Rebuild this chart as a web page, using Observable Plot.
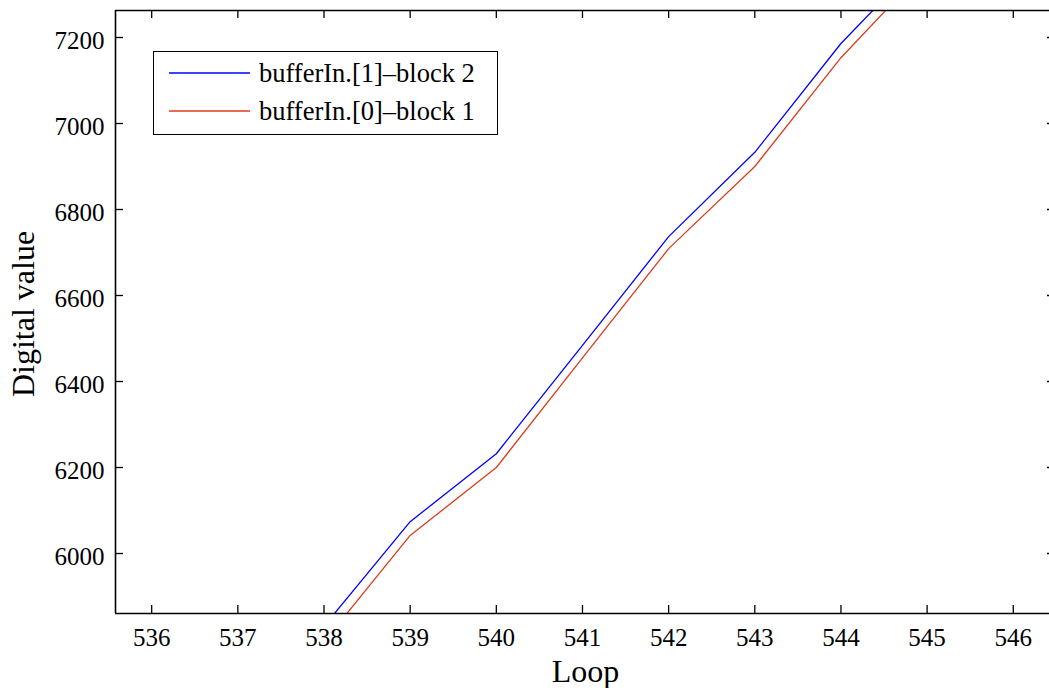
<!DOCTYPE html>
<html>
<head>
<meta charset="utf-8">
<script src="https://cdn.jsdelivr.net/npm/d3@7"></script>
<script src="https://cdn.jsdelivr.net/npm/@observablehq/plot@0.6"></script>
<style>
  html, body { margin: 0; padding: 0; background: #fff; overflow: hidden; }
  #wrap { position: relative; width: 1049px; height: 688px; overflow: hidden; }
  #wrap svg text, #wrap svg g[aria-label] { font-family: "Liberation Serif", "Times New Roman", serif !important; }
  .legend { position: absolute; left: 153px; top: 51px; width: 343px; height: 82px;
            border: 1.5px solid #000; background: #fff;
            font-family: "Liberation Serif", "Times New Roman", serif; font-size: 26.5px; color: #000; }
  .legend .row { position: absolute; left: 0; height: 30px; display: flex; align-items: center; }
  .legend svg { display: block; }
  .legend span { margin-left: 9px; white-space: nowrap; line-height: 30px; }
</style>
</head>
<body>
<div id="wrap"></div>
<script>
// ---- data ----
const loops = [538, 539, 540, 541, 542, 543, 544, 545];
const block2 = [5831, 6074, 6232, 6484, 6737, 6933, 7186, 7394]; // bufferIn.[1]-block 2
const block1 = [5795, 6042, 6200, 6455, 6709, 6900, 7153, 7365]; // bufferIn.[0]-block 1
const seriesNames = ["bufferIn.[1]\u2013block 2", "bufferIn.[0]\u2013block 1"];
const seriesColors = ["#0000ff", "#de3c1a"];
const xTicks = [536, 537, 538, 539, 540, 541, 542, 543, 544, 545, 546];
const yTicks = [6000, 6200, 6400, 6600, 6800, 7000, 7200];
const xDomain = [535.58, 546.49];
const yDomain = [5860.5, 7262.8];

const rows = [];
loops.forEach((l, i) => rows.push({loop: l, value: block2[i], series: seriesNames[0]}));
loops.forEach((l, i) => rows.push({loop: l, value: block1[i], series: seriesNames[1]}));

const FONT = "Liberation Serif";
const W = 1049, H = 688, mT = 10, mB = 75, mL = 115, mR = -6;
const plotH = H - mT - mB, plotW = W - mL - mR;
const tickLen = 8;

const chart = Plot.plot({
  width: W, height: H,
  marginTop: mT, marginBottom: mB, marginLeft: mL, marginRight: mR,
  style: {fontFamily: FONT, fontSize: "25px", color: "#000", background: "#fff"},
  x: {domain: xDomain, axis: null},
  y: {domain: yDomain, axis: null},
  color: {domain: seriesNames, range: seriesColors},
  marks: [
    Plot.line(rows, {x: "loop", y: "value", z: "series", stroke: "series", strokeWidth: 1.3, clip: true}),
    // frame (top, bottom, left; right edge lies beyond the image)
    Plot.ruleY([yDomain[0]], {stroke: "#000", strokeWidth: 1.6}),
    Plot.ruleY([yDomain[1]], {stroke: "#000", strokeWidth: 1.6}),
    Plot.ruleX([xDomain[0]], {stroke: "#000", strokeWidth: 1.6}),
    // inward ticks
    Plot.tickX(xTicks, {x: d => d, insetTop: plotH - tickLen, stroke: "#000", strokeWidth: 1.3}),
    Plot.tickX(xTicks, {x: d => d, insetBottom: plotH - tickLen, stroke: "#000", strokeWidth: 1.3}),
    Plot.tickY(yTicks, {y: d => d, insetRight: plotW - tickLen, stroke: "#000", strokeWidth: 1.3}),
    Plot.tickY(yTicks, {y: d => d, insetLeft: plotW - tickLen, stroke: "#000", strokeWidth: 1.3}),
    // tick labels
    Plot.text(xTicks, {x: d => d, text: d => String(d), frameAnchor: "bottom", dy: 15, lineAnchor: "top", textAnchor: "middle", fontSize: 25, fontFamily: FONT, fill: "#000"}),
    Plot.text(yTicks, {y: d => d, text: d => String(d), frameAnchor: "left", dx: -11, dy: 3, lineAnchor: "middle", textAnchor: "end", fontSize: 25, fontFamily: FONT, fill: "#000"}),
    // axis titles
    Plot.text(["Loop"], {frameAnchor: "bottom", dy: 68, lineAnchor: "bottom", textAnchor: "middle", fontSize: 32, fontFamily: FONT, fill: "#000"}),
    Plot.text(["Digital value"], {frameAnchor: "left", rotate: -90, dx: -82, dy: 2, lineAnchor: "bottom", textAnchor: "middle", fontSize: 32, fontFamily: FONT, fill: "#000"})
  ]
});

const wrap = document.getElementById("wrap");
wrap.appendChild(chart);

// legend (inside the plot, top-left)
const legend = document.createElement("div");
legend.className = "legend";
const rowTops = [6, 44];
seriesNames.forEach((name, i) => {
  const row = document.createElement("div");
  row.className = "row";
  row.style.top = rowTops[i] + "px";
  row.innerHTML = `<svg width="96" height="30"><line x1="15" x2="96" y1="15" y2="15" stroke="${seriesColors[i]}" stroke-width="1.3"/></svg><span>${name}</span>`;
  legend.appendChild(row);
});
wrap.appendChild(legend);
</script>
</body>
</html>
